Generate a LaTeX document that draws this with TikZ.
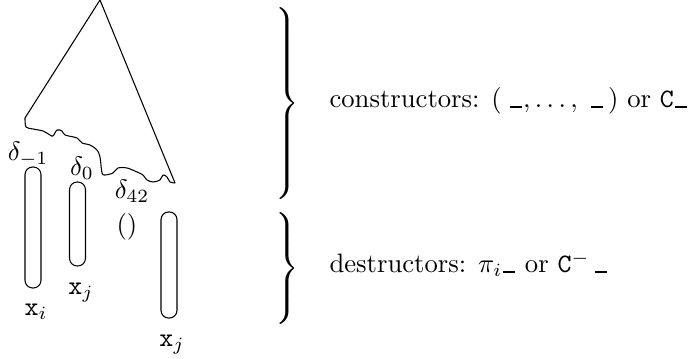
\documentclass[tikz,border=0pt]{standalone}
\usepackage{amsmath}
\newcommand{\blankarg}{\mbox{\kern0.3pt\rule{4.6pt}{0.75pt}\kern0.3pt}}
\newcommand{\tallbrace}[1]{$\nulldelimiterspace=0pt\delimitershortfall=0pt\left.\vcenter{\hbox{\rule{0pt}{#1}}}\right\}$}
\begin{document}
\begin{tikzpicture}[x=0.375pt,y=-0.375pt,line join=round,
  capsule/.style={draw,rounded corners=2.9pt,inner sep=0pt,minimum width=6pt},
  lbl/.style={inner sep=0pt}]
\useasboundingbox (0,0) rectangle (691,359);
% the term with its ragged lower edge
\draw plot[smooth,tension=0.5] coordinates {(25,118) (26,127) (33,129) (43,131) (50,135)
  (53,136) (57,130) (62,131) (65,135) (77,138) (82,143) (90,145) (97,150) (100,157)
  (102,173) (105,175) (113,173) (118,168) (127,168) (137,172) (143,175) (147,180)
  (153,182) (160,180) (163,175) (167,177) (170,182) (175,183)} -- (100,0) -- cycle;
\node[lbl] (dm1) at (28,154) {$\delta_{-1}$};
\node[lbl] (d0) at (82,168) {$\delta_0$};
\node[lbl] (d42) at (132,191) {$\delta_{42}$};
\node[lbl] (unit) at (127,227) {$()$};
% the arguments
\node[capsule,minimum height=45.4pt] (argA) at (33,227.5) {};
\node[capsule,minimum height=31.5pt] (argB) at (77.5,224) {};
\node[capsule,minimum height=39.8pt] (argC) at (169,265) {};
\node[lbl] (xa) at (36,312) {$\mathtt{x}_i$};
\node[lbl] (xb) at (81,293) {$\mathtt{x}_j$};
\node[lbl] (xc) at (172,345) {$\mathtt{x}_j$};
% braces and their captions
\node[lbl,anchor=west] (brcons) at (275,104) {\tallbrace{69pt}};
\node[lbl,anchor=west] (brdes) at (275,269) {\tallbrace{41pt}};
\node[lbl,anchor=base west] (cons) at (329,108)
  {constructors: $(\;\blankarg,\ldots,\;\blankarg\,)$ or \texttt{C}\blankarg};
\node[lbl,anchor=base west] (des) at (329,273)
  {destructors: $\pi_i\blankarg$ or $\mathtt{C}^{-}\,\blankarg$};
\end{tikzpicture}
\end{document}
